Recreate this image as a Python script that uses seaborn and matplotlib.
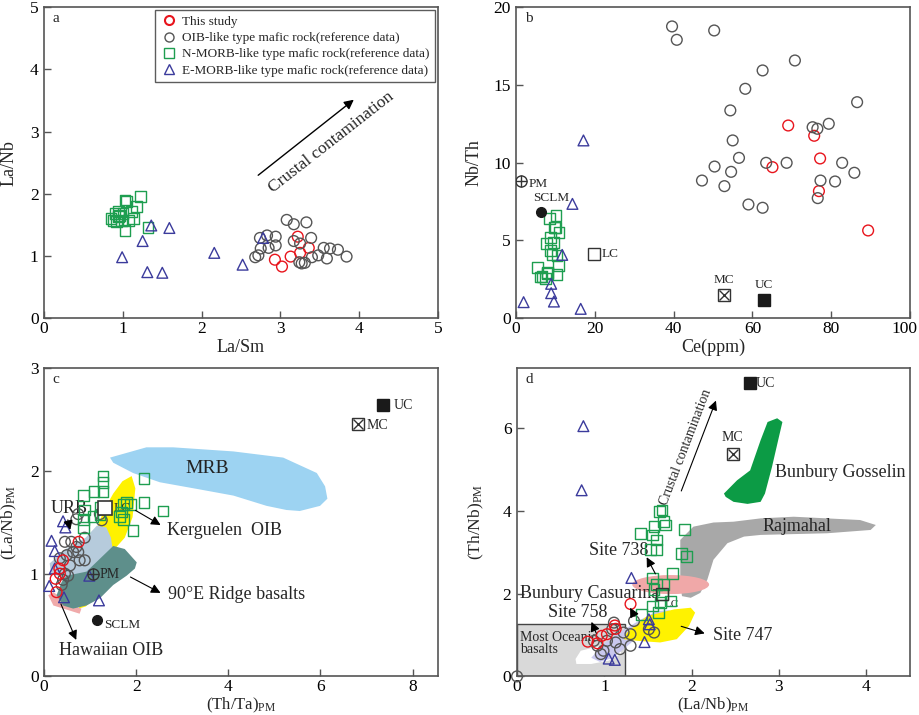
import numpy as np
import pandas as pd
import matplotlib
matplotlib.use('Agg')
import matplotlib.pyplot as plt
import matplotlib.transforms as mtransforms
from matplotlib.lines import Line2D
from matplotlib.patches import Ellipse
import seaborn as sns

sns.set_style('ticks')
plt.rcParams['font.family'] = ['Liberation Serif', 'DejaVu Serif']
plt.rcParams['mathtext.fontset'] = 'custom'
plt.rcParams['mathtext.rm'] = 'Liberation Serif'
plt.rcParams['mathtext.it'] = 'Liberation Serif:italic'

RED = '#e8141c'
GRAY = '#555555'
GREEN = '#1e9e50'
BLUE = '#3b3b9c'

# ---------------- panel a : La/Sm vs La/Nb
a_this_x = [3.22, 3.36, 3.25, 3.13, 2.93, 3.02]
a_this_y = [1.31, 1.13, 1.05, 0.99, 0.94, 0.83]
a_oib_x = [3.08, 3.17, 3.33, 3.39, 2.83, 2.74, 2.94, 2.94, 2.85, 2.75, 3.17, 2.68, 2.72,
           3.27, 3.24, 3.31, 3.40, 3.48, 3.55, 3.59, 3.73, 3.84, 3.63, 3.25]
a_oib_y = [1.58, 1.51, 1.54, 1.29, 1.33, 1.29, 1.31, 1.17, 1.13, 1.12, 1.24, 0.98, 1.01,
           0.88, 0.90, 0.89, 0.98, 1.01, 1.13, 0.96, 1.10, 0.99, 1.12, 1.20]
a_nmorb_x = [1.025, 1.22, 1.17, 1.11, 1.13, 1.07, 1.025, 1.32, 0.85, 0.90, 0.94, 0.98,
             0.92, 0.96, 0.88, 0.94, 1.00, 1.05]
a_nmorb_y = [1.90, 1.95, 1.79, 1.71, 1.60, 1.57, 1.41, 1.46, 1.60, 1.68, 1.63, 1.57,
             1.55, 1.65, 1.57, 1.71, 1.68, 1.88]
a_emorb_x = [0.99, 1.25, 1.36, 1.59, 1.31, 1.50, 2.16, 2.52, 2.78]
a_emorb_y = [0.98, 1.24, 1.49, 1.45, 0.74, 0.73, 1.05, 0.86, 1.29]

# ---------------- panel b : Ce vs Nb/Th
b_this_x = [69.1, 75.7, 77.2, 65.1, 76.9, 89.4]
b_this_y = [12.39, 11.73, 10.27, 9.71, 8.17, 5.64]
b_oib_x = [39.6, 40.8, 50.3, 70.8, 62.6, 58.2, 54.4, 86.6, 75.3, 76.5, 79.4, 55.0, 56.6,
           63.5, 68.7, 82.8, 85.9, 50.4, 54.6, 47.2, 52.9, 77.3, 81.0, 59.0, 62.6, 76.6]
b_oib_y = [18.76, 17.90, 18.50, 16.57, 15.93, 14.75, 13.36, 13.89, 12.28, 12.18, 12.50,
           11.43, 10.31, 9.99, 9.99, 9.99, 9.35, 9.75, 9.41, 8.85, 8.49, 8.85, 8.79,
           7.31, 7.10, 7.72]
b_nmorb_x = [10.1, 8.5, 9.7, 10.9, 8.7, 7.7, 9.4, 8.7, 9.1, 10.4, 5.5, 10.8, 7.9, 6.6,
             7.4, 10.4, 10.0, 8.0, 6.2]
b_nmorb_y = [6.60, 6.39, 5.85, 5.49, 5.21, 4.78, 4.89, 4.35, 4.09, 4.03, 3.28, 3.39,
             2.96, 2.68, 2.53, 2.81, 5.85, 2.85, 2.64]
b_emorb_x = [17.1, 14.3, 11.7, 8.9, 8.9, 9.6, 1.9, 16.4]
b_emorb_y = [11.43, 7.35, 4.07, 2.21, 1.61, 1.07, 1.03, 0.60]

# ---------------- panel c : (Th/Ta)PM vs (La/Nb)PM
c_this_x = [0.75, 0.41, 0.33, 0.34, 0.25, 0.27]
c_this_y = [1.31, 1.13, 1.05, 1.00, 0.95, 0.82]
c_oib_x = [0.70, 0.74, 1.25, 1.21, 0.88, 0.45, 0.59, 0.74, 0.88, 0.77, 0.49, 0.56, 0.45,
           0.52, 0.38, 0.41, 0.63, 0.70, 0.34]
c_oib_y = [1.53, 1.58, 1.52, 1.58, 1.35, 1.31, 1.31, 1.21, 1.13, 1.13, 1.18, 1.08, 1.00,
           0.98, 0.89, 0.94, 1.21, 1.26, 1.15]
c_nmorb_x = [0.86, 1.08, 1.28, 1.28, 1.28, 2.17, 2.17, 2.58, 1.93, 0.88, 0.85, 0.85,
             1.06, 1.21, 1.72, 1.79, 1.88, 1.68, 1.72, 1.64, 1.21]
c_nmorb_y = [1.76, 1.80, 1.95, 1.89, 1.80, 1.93, 1.69, 1.61, 1.42, 1.62, 1.53, 1.45,
             1.56, 1.57, 1.67, 1.69, 1.67, 1.60, 1.53, 1.56, 1.65]
c_emorb_x = [0.41, 0.46, 0.16, 0.23, 0.23, 0.11, 0.43, 0.98, 1.19]
c_emorb_y = [1.51, 1.45, 1.32, 1.22, 1.05, 0.88, 0.77, 0.98, 0.74]

mrb_x = [1.43, 2.22, 2.80, 4.11, 5.19, 5.92, 6.10, 6.15, 5.99, 5.55, 5.26, 4.83, 4.11,
         3.38, 2.51, 1.93, 1.50]
mrb_y = [2.13, 2.23, 2.23, 2.19, 2.13, 1.98, 1.85, 1.73, 1.66, 1.61, 1.62, 1.66, 1.76,
         1.82, 1.89, 1.98, 2.08]
kerg_x = [1.90, 1.98, 1.92, 1.75, 1.55, 1.35, 1.20, 0.90, 0.75, 0.85, 0.95, 1.05, 1.15,
          1.30, 1.50, 1.70]
kerg_y = [1.95, 1.83, 1.55, 1.35, 1.25, 0.95, 0.80, 0.68, 0.66, 0.80, 1.00, 1.25, 1.45,
          1.62, 1.78, 1.90]
urb_x = [0.12, 0.50, 0.90, 1.15, 1.35, 1.45, 1.50, 1.40, 1.00, 0.50, 0.15]
urb_y = [1.10, 1.25, 1.35, 1.47, 1.45, 1.35, 1.20, 1.00, 0.95, 0.95, 1.00]
ridge_x = [0.49, 0.92, 1.50, 1.75, 2.01, 1.97, 1.79, 1.50, 1.21, 0.92, 0.63, 0.41, 0.27, 0.38]
ridge_y = [0.98, 1.02, 1.27, 1.24, 1.11, 1.05, 0.98, 0.89, 0.76, 0.69, 0.66, 0.69, 0.79, 0.92]
haw_x = [0.09, 0.20, 0.49, 0.77, 0.81, 0.63, 0.20]
haw_y = [0.79, 0.69, 0.65, 0.61, 0.66, 0.69, 0.82]

# ---------------- panel d : (La/Nb)PM vs (Th/Nb)PM
d_this_x = [1.30, 1.12, 1.13, 1.03, 0.97, 0.81, 0.92]
d_this_y = [1.75, 1.23, 1.15, 1.02, 0.98, 0.84, 0.80]
d_oib_x = [1.11, 1.34, 1.22, 1.30, 1.51, 1.57, 1.03, 1.13, 0.99, 0.92, 1.18, 1.30, 1.09,
           0.88, 0.96, 0.0]
d_oib_y = [1.30, 1.34, 1.06, 1.02, 1.14, 1.06, 0.86, 0.82, 0.62, 0.74, 0.66, 0.74, 1.14,
           0.86, 0.54, 0.0]
d_nmorb_x = [1.66, 1.63, 1.68, 1.70, 1.57, 1.41, 1.55, 1.60, 1.53, 1.60, 1.92, 1.88,
             1.94, 1.78, 1.55, 1.60, 1.68, 1.57, 1.67, 1.76, 1.55, 1.64, 1.43, 1.62]
d_nmorb_y = [4.02, 3.98, 3.74, 3.66, 3.62, 3.46, 3.42, 3.30, 3.06, 3.06, 3.56, 2.98,
             2.90, 2.48, 2.38, 2.22, 2.22, 2.10, 1.98, 1.82, 1.70, 1.78, 1.50, 1.55]
d_emorb_x = [0.76, 0.74, 1.31, 1.51, 1.52, 1.46, 1.05, 1.12]
d_emorb_y = [6.05, 4.50, 2.38, 1.38, 1.26, 0.83, 0.43, 0.40]

gos_x = [2.37, 2.52, 2.67, 2.79, 2.87, 2.98, 3.04, 3.00, 2.92, 2.84, 2.79, 2.64, 2.48, 2.39]
gos_y = [4.42, 4.74, 4.98, 5.71, 6.15, 6.24, 6.15, 5.79, 5.06, 4.42, 4.22, 4.17, 4.22, 4.34]
raj_x = [1.87, 2.02, 2.25, 2.48, 2.79, 3.17, 3.93, 4.11, 4.05, 3.55, 2.79, 2.60, 2.41,
         2.25, 2.18, 2.10, 1.99, 1.89, 1.87, 1.87]
raj_y = [3.30, 3.62, 3.72, 3.74, 3.82, 3.86, 3.78, 3.66, 3.54, 3.46, 3.42, 3.38, 3.22,
         2.82, 2.34, 2.02, 1.90, 1.94, 2.18, 2.66]
s747_x = [1.26, 1.49, 1.80, 1.99, 2.04, 1.97, 1.83, 1.64, 1.38, 1.22]
s747_y = [1.06, 1.46, 1.62, 1.66, 1.54, 1.22, 0.90, 0.82, 0.86, 0.90]
s758_x = [0.85, 1.00, 1.20, 1.40, 1.60, 1.75, 1.70, 1.50, 1.30, 1.10, 0.95]
s758_y = [0.45, 0.80, 1.10, 1.35, 1.58, 1.60, 1.45, 1.20, 0.80, 0.45, 0.35]
white_x = [0.67, 0.73, 0.96, 1.15, 1.20, 1.05, 0.85, 0.68]
white_y = [0.42, 0.62, 0.74, 0.70, 0.55, 0.38, 0.30, 0.30]


def add_series(ax, x, y, marker, color, s=60):
    sns.scatterplot(x=x, y=y, marker=marker, s=s, facecolors='none', edgecolor=color,
                    linewidth=1.0, ax=ax, legend=False, zorder=5, clip_on=False)


def style_axes(ax, letter, ylab_x, xlab_y):
    for sp in ax.spines.values():
        sp.set_color('#555555')
        sp.set_linewidth(1.2)
    ax.tick_params(direction='in', length=5, width=1, colors='#555555',
                   labelcolor='black', labelsize=12.5)
    ax.tick_params(axis='x', pad=2)
    ax.tick_params(axis='y', pad=4)
    ax.text(0.022, 0.985, letter, transform=ax.transAxes, va='top', ha='left', fontsize=11)
    ax.yaxis.set_label_coords(ylab_x, 0.5)
    ax.xaxis.set_label_coords(0.5, xlab_y)


def arrow(ax, xy, xytext, lw=0.8):
    ax.annotate('', xy=xy, xytext=xytext,
                arrowprops=dict(arrowstyle='-|>', color='black', lw=lw, mutation_scale=14),
                zorder=6)


def pm_mark(ax, x, y):
    ax.plot([x], [y], marker='o', mfc='none', mec='#333333', mew=1, ms=8, ls='none', zorder=6)
    ax.plot([x], [y], marker='+', color='#333333', mew=1, ms=8, ls='none', zorder=6)


def mc_mark(ax, x, y):
    ax.plot([x], [y], marker='s', mfc='white', mec='#333333', mew=1, ms=9, ls='none', zorder=6)
    ax.plot([x], [y], marker='x', color='#333333', mew=1, ms=7, ls='none', zorder=7)


fig = plt.figure(figsize=(9.2, 7.15), dpi=100)
ax_a = fig.add_axes([0.048, 0.555, 0.428, 0.435])
ax_b = fig.add_axes([0.561, 0.555, 0.428, 0.435])
ax_c = fig.add_axes([0.048, 0.054, 0.428, 0.431])
ax_d = fig.add_axes([0.562, 0.054, 0.427, 0.431])

# ---- a
ax = ax_a
add_series(ax, a_this_x, a_this_y, 'o', RED)
add_series(ax, a_oib_x, a_oib_y, 'o', GRAY)
add_series(ax, a_nmorb_x, a_nmorb_y, 's', GREEN)
add_series(ax, a_emorb_x, a_emorb_y, '^', BLUE)
ax.set_xlim(0, 5)
ax.set_ylim(0, 5)
ax.set_xticks([0, 1, 2, 3, 4, 5])
ax.set_yticks([0, 1, 2, 3, 4, 5])
ax.set_xlabel('La/Sm', fontsize=13)
ax.set_ylabel('La/Nb', fontsize=13)
arrow(ax, (3.96, 3.54), (2.69, 2.27), lw=1.0)
ax.text(3.64, 2.83, 'Crustal contamination', rotation=38, fontsize=12.5,
        ha='center', va='center', rotation_mode='anchor')
handles = [Line2D([], [], ls='none', marker='o', mfc='none', mec=RED, mew=1.5, ms=6.5),
           Line2D([], [], ls='none', marker='o', mfc='none', mec=GRAY, mew=1, ms=6.5),
           Line2D([], [], ls='none', marker='s', mfc='none', mec=GREEN, mew=1, ms=6.5),
           Line2D([], [], ls='none', marker='^', mfc='none', mec=BLUE, mew=1, ms=6.5)]
labels = ['This study', 'OIB-like type mafic rock(reference data)',
          'N-MORB-like type mafic rock(reference data)',
          'E-MORB-like type mafic rock(reference data)']
leg = ax.legend(handles, labels, loc='upper right', fontsize=9.5, frameon=True,
                fancybox=False, edgecolor='#333333', borderaxespad=0.25,
                handletextpad=0.4, labelspacing=0.3, borderpad=0.4, handlelength=1.2)
leg.get_frame().set_linewidth(1.0)
style_axes(ax, 'a', -0.068, -0.066)

# ---- b
ax = ax_b
add_series(ax, b_this_x, b_this_y, 'o', RED)
add_series(ax, b_oib_x, b_oib_y, 'o', GRAY)
add_series(ax, b_nmorb_x, b_nmorb_y, 's', GREEN)
add_series(ax, b_emorb_x, b_emorb_y, '^', BLUE)
pm_mark(ax, 1.35, 8.79)
ax.text(3.2, 8.6, 'PM', fontsize=9.5, va='center')
ax.plot([6.2], [6.82], marker='o', color='#1a1a1a', ms=7, ls='none', zorder=6)
ax.text(4.2, 7.35, 'SCLM', fontsize=9.5, va='bottom')
ax.plot([19.9], [4.14], marker='s', mfc='white', mec='#333333', mew=1, ms=9, ls='none', zorder=6)
ax.text(21.8, 4.1, 'LC', fontsize=9.5, va='center')
mc_mark(ax, 52.9, 1.46)
ax.text(52.9, 2.05, 'MC', fontsize=9.5, ha='center', va='bottom')
ax.plot([63.0], [1.14], marker='s', color='#1a1a1a', ms=9, ls='none', zorder=6)
ax.text(63.0, 1.75, 'UC', fontsize=9.5, ha='center', va='bottom')
ax.set_xlim(0, 100)
ax.set_ylim(0, 20)
ax.set_xticks([0, 20, 40, 60, 80, 100])
ax.set_yticks([0, 5, 10, 15, 20])
ax.set_xlabel('Ce(ppm)', fontsize=13)
ax.set_ylabel('Nb/Th', fontsize=13)
style_axes(ax, 'b', -0.085, -0.066)
last = ax.get_xticklabels()[-1]
last.set_transform(last.get_transform() + mtransforms.ScaledTranslation(-5 / 100, 0, fig.dpi_scale_trans))

# ---- c
ax = ax_c
ax.fill(mrb_x, mrb_y, color='#9dd3f2', lw=0, zorder=1)
ax.fill(kerg_x, kerg_y, color='#fff200', lw=0, zorder=1)
ax.fill(urb_x, urb_y, color='#b6cbdc', lw=0, zorder=2)
ax.fill(ridge_x, ridge_y, color='#5e8f8b', lw=0, zorder=3)
ax.fill(haw_x, haw_y, color='#f0aaaa', lw=0, zorder=1)
add_series(ax, c_oib_x, c_oib_y, 'o', GRAY)
add_series(ax, c_nmorb_x, c_nmorb_y, 's', GREEN)
add_series(ax, c_emorb_x, c_emorb_y, '^', BLUE)
add_series(ax, c_this_x, c_this_y, 'o', RED)
ax.text(3.53, 2.02, 'MRB', fontsize=14, ha='center', va='center', color='#222222')
ax.plot([7.36], [2.64], marker='s', color='#1a1a1a', ms=9, ls='none', zorder=6)
ax.text(7.6, 2.64, 'UC', fontsize=10, va='center')
mc_mark(ax, 6.81, 2.46)
ax.text(7.0, 2.44, 'MC', fontsize=10, va='center')
ax.plot([1.32], [1.64], marker='s', mfc='white', mec='#333333', mew=1.2, ms=10, ls='none', zorder=7)
ax.text(1.5, 1.64, 'LC', fontsize=9.5, va='center', zorder=4)
pm_mark(ax, 1.06, 1.0)
ax.text(1.2, 0.99, 'PM', fontsize=10, va='center')
ax.plot([1.14], [0.55], marker='o', color='#1a1a1a', ms=7, ls='none', zorder=6)
ax.text(1.3, 0.5, 'SCLM', fontsize=9.5, va='center')
ax.text(0.15, 1.63, 'URB', fontsize=13, va='center')
arrow(ax, (0.58, 1.40), (0.5, 1.55))
ax.text(2.66, 1.42, 'Kerguelen  OIB', fontsize=13, va='center')
arrow(ax, (2.58, 1.46), (1.93, 1.63))
ax.text(2.69, 0.80, '90°E Ridge basalts', fontsize=13, va='center')
arrow(ax, (2.58, 0.80), (1.82, 0.98))
ax.text(0.32, 0.25, 'Hawaiian OIB', fontsize=13, va='center')
arrow(ax, (0.72, 0.33), (0.34, 0.73))
ax.set_xlim(0, 8.55)
ax.set_ylim(0, 3)
ax.set_xticks([0, 2, 4, 6, 8])
ax.set_yticks([0, 1, 2, 3])
ax.set_xlabel('(Th/Ta)$_{\\rm PM}$', fontsize=12)
ax.set_ylabel('(La/Nb)$_{\\rm PM}$', fontsize=12.5)
style_axes(ax, 'c', -0.063, -0.062)

# ---- d
ax = ax_d
ax.fill([0, 1.24, 1.24, 0], [0, 0, 1.26, 1.26], facecolor='#d9d9d9',
        edgecolor='#444444', lw=1, zorder=1)
ax.fill(white_x, white_y, color='white', lw=0, zorder=2)
ax.fill(s758_x, s758_y, color='#c9c8ee', lw=0, zorder=2)
ax.fill(s747_x, s747_y, color='#fff200', lw=0, zorder=2)
ax.fill(raj_x, raj_y, color='#a8a8a8', lw=0, zorder=1)
ax.fill(gos_x, gos_y, color='#0c9b45', lw=0, zorder=1)
ax.add_patch(Ellipse((1.76, 2.22), 0.88, 0.46, color='#f0a8a8', lw=0, zorder=2))
add_series(ax, d_oib_x, d_oib_y, 'o', GRAY)
add_series(ax, d_nmorb_x, d_nmorb_y, 's', GREEN)
add_series(ax, d_emorb_x, d_emorb_y, '^', BLUE)
add_series(ax, d_this_x, d_this_y, 'o', RED)
ax.plot([2.67], [7.09], marker='s', color='#1a1a1a', ms=9, ls='none', zorder=6)
ax.text(2.73, 7.09, 'UC', fontsize=10, va='center')
mc_mark(ax, 2.47, 5.38)
ax.text(2.47, 5.62, 'MC', fontsize=10, ha='center', va='bottom')
ax.plot([1.66], [1.98], marker='s', mfc='none', mec='#333333', mew=1, ms=9, ls='none', zorder=6)
ax.text(1.69, 1.75, 'LC', fontsize=8, va='center', zorder=4)
ax.text(2.96, 4.93, 'Bunbury Gosselin', fontsize=13, va='center')
ax.text(2.81, 3.62, 'Rajmahal', fontsize=13, va='center')
ax.text(0.82, 3.04, 'Site 738', fontsize=13, va='center')
arrow(ax, (1.47, 2.94), (1.60, 2.42))
ax.text(0.03, 2.0, 'Bunbury Casuarina', fontsize=13, va='center')
arrow(ax, (1.28, 1.72), (1.36, 1.40))
ax.text(0.36, 1.55, 'Site 758', fontsize=13, va='center')
arrow(ax, (0.84, 1.38), (0.92, 0.98))
ax.text(2.24, 0.98, 'Site 747', fontsize=13, va='center')
arrow(ax, (2.18, 1.02), (1.85, 1.23))
ax.text(0.03, 0.95, 'Most Oceanic', fontsize=10, va='center', zorder=3)
ax.text(0.03, 0.64, 'basalts', fontsize=10, va='center', zorder=3)
arrow(ax, (2.29, 6.73), (1.87, 4.42))
ax.text(1.93, 5.55, 'Crustal contamination', rotation=69, fontsize=10,
        ha='center', va='center', rotation_mode='anchor')
ax.set_xlim(0, 4.5)
ax.set_ylim(0, 7.45)
ax.set_xticks([0, 1, 2, 3, 4])
ax.set_yticks([0, 2, 4, 6])
ax.set_xlabel('(La/Nb)$_{\\rm PM}$', fontsize=12)
ax.set_ylabel('(Th/Nb)$_{\\rm PM}$', fontsize=12.5)
style_axes(ax, 'd', -0.079, -0.062)

fig.savefig('out.png', dpi=100)
